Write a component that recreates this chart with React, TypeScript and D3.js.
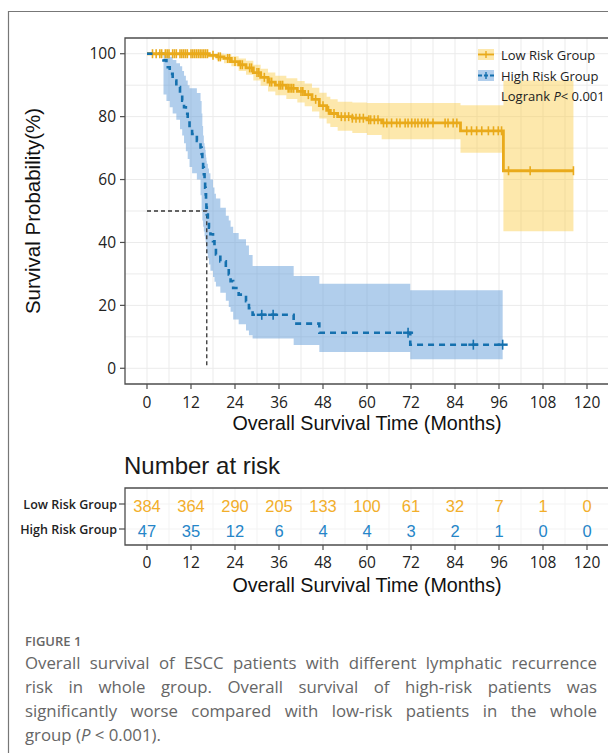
import React, { useEffect, useRef } from "react";
import * as d3 from "d3";

// ---------------- data ----------------
const lowTime = [0, 17, 19, 21, 23, 25, 27, 29, 31, 33, 35, 38, 41, 43, 45, 47, 49, 50, 52, 56, 60, 64, 85.5, 97.2];
const lowSurv = [100, 99.5, 99, 98.5, 97.5, 96.5, 95.5, 94, 92.5, 91, 90, 89, 88, 87, 85.5, 83.5, 82, 81, 80, 79.5, 79, 78, 75.5, 62.8];
const lowUpper = [100, 100, 100, 99.8, 99.2, 98.5, 97.8, 96.5, 95.2, 94, 93, 92.2, 91.3, 90.5, 89.2, 87.6, 86.3, 85.5, 84.7, 84.5, 84.3, 84.3, 83.6, 91.5];
const lowLower = [100, 98.8, 98, 97, 96, 94.5, 93.3, 91.5, 89.8, 88, 86.8, 85.6, 84.5, 83.3, 81.6, 79.4, 77.8, 76.7, 75.5, 74.8, 74.2, 72.8, 68.5, 43.6];
const lowEnd = 116.3;
const lowCensor = [1.5, 2.5, 3.5, 4, 5, 5.5, 6, 7, 7.5, 8, 9, 9.5, 10, 10.5, 11, 12, 12.5, 13, 13.5, 14, 14.5, 15, 15.5, 16, 16.5,
  18, 19.5, 20, 22, 22.5, 24, 25.5, 26, 28, 28.5, 30, 30.5, 32, 33.5, 34, 36, 36.5, 37, 38.5, 39, 39.5, 40, 42, 42.5, 44, 46,
  48, 49.5, 51, 53, 54, 55, 56, 57, 58, 59, 60.5, 61, 62, 63, 64.5, 65.4, 66.7, 68.1, 69, 70.4, 71.2, 72.2, 73.1, 73.9, 74.9,
  75.8, 76.6, 78, 81.3, 82.1, 83.5, 84.5, 87.2, 88.5, 89.9, 91.3, 93.1, 94.5, 95.8, 96.7, 98.6, 104.5, 116.3];

const highTime = [0, 4.5, 5.3, 6.2, 7.0, 8.0, 9.0, 9.6, 10.1, 10.6, 11.1, 11.6, 12.3, 13.6, 14.6, 14.9, 15.1, 15.3, 15.5, 15.7,
  15.85, 16.0, 16.1, 16.2, 16.3, 16.6, 16.9, 17.3, 18.0, 18.4, 18.8, 20.0, 21.5, 22.3, 22.8, 23.5, 25.0, 27.0, 27.8, 28.8, 40, 47, 71.8];
const highSurv = [100, 97.9, 95.7, 93.6, 91.5, 89.4, 87.2, 85.1, 83.0, 80.9, 78.7, 76.6, 74.5, 72.3, 70.2, 68.1, 66.0, 63.8, 61.7, 59.6,
  57.4, 55.3, 53.2, 51.1, 48.9, 46.8, 44.7, 42.6, 40.4, 38.3, 36.2, 34.0, 31.9, 29.8, 27.7, 25.5, 23.4, 21.3, 19.1, 17.0, 14.2, 11.3, 7.5];
const highUpper = [100, 100, 99.5, 99, 98, 97, 96, 94.5, 93, 91.5, 90, 89, 89, 87.5, 85, 81, 77, 74, 71.5, 70.5,
  69.5, 68, 67, 66, 65, 63.5, 62, 60, 57.5, 55.5, 54, 51, 48.5, 47, 45, 43, 41, 39, 36, 32.5, 29.3, 26.9, 24.8];
const highLower = [100, 87, 85, 83, 81, 79, 76, 74, 71.5, 69, 66.5, 64, 62, 60, 55, 50, 47, 45, 43.5, 42,
  41, 40, 39, 38, 36.5, 35, 33, 31, 29, 27.5, 26, 24, 21.5, 19.5, 18, 15.5, 14, 12, 10.5, 9.5, 7.4, 5.2, 2.9];
const highEnd = 97;
const highCensor = [31.3, 34.4, 71.2, 89, 97];

const medianTime = 16.3;

const xTicks = [0, 12, 24, 36, 48, 60, 72, 84, 96, 108, 120];
const xGrid = [0, 6, 12, 18, 24, 30, 36, 42, 48, 54, 60, 66, 72, 78, 84, 90, 96, 102, 108, 114, 120];
const yTicks = [0, 20, 40, 60, 80, 100];
const yGrid = [0, 10, 20, 30, 40, 50, 60, 70, 80, 90, 100];

const riskTimes = [0, 12, 24, 36, 48, 60, 72, 84, 96, 108, 120];
const lowRisk = [384, 364, 290, 205, 133, 100, 61, 32, 7, 1, 0];
const highRisk = [47, 35, 12, 6, 4, 4, 3, 2, 1, 0, 0];

const groupNames = ["Low Risk Group", "High Risk Group"];

const captionLines = [
  "Overall survival of ESCC patients with different lymphatic recurrence",
  "risk in whole group. Overall survival of high-risk patients was",
  "significantly worse compared with low-risk patients in the whole",
];

// ---------------- styles ----------------
const LOW = "#E9AA1B";
const HIGH = "#1570AE";
const LOW_FILL = "rgba(250,205,70,0.45)";
const HIGH_FILL = "rgba(90,150,215,0.47)";
const LOW_TXT = "#F2AE2A";
const HIGH_TXT = "#2585C8";
const GRID = "#EBEBEB";
const AX = "#4d4d4d";
const TICKFONT = "'Open Sans', sans-serif";
const ARIAL = "'Liberation Sans', Arial, sans-serif";

const x = d3.scaleLinear().domain([-6, 126]).range([125, 609]);
const y = d3.scaleLinear().domain([-5, 105]).range([384, 38]);
const PL = 125, PR = 609, PT = 38, PB = 384;
const TT = 488, TB = 545;
const rowY = [504, 529];

type Pt = { t: number; s: number; hi: number; lo: number };

function makePts(times: number[], surv: number[], up: number[], lo: number[], end: number): Pt[] {
  const p = times.map((t, i) => ({ t, s: surv[i], hi: up[i], lo: lo[i] }));
  const last = p[p.length - 1];
  p.push({ t: end, s: last.s, hi: last.hi, lo: last.lo });
  return p;
}

function survAt(times: number[], surv: number[], t: number) {
  const i = d3.bisectRight(times, t) - 1;
  return surv[Math.max(0, i)];
}

const lineGen = d3.line<Pt>().x((d) => x(d.t)).y((d) => y(d.s)).curve(d3.curveStepAfter);
const areaGen = d3.area<Pt>().x((d) => x(d.t)).y0((d) => y(d.lo)).y1((d) => y(d.hi)).curve(d3.curveStepAfter);

export default function App() {
  const capRef = useRef<SVGGElement>(null);
  const lowPts = makePts(lowTime, lowSurv, lowUpper, lowLower, lowEnd);
  const highPts = makePts(highTime, highSurv, highUpper, highLower, highEnd);

  useEffect(() => {
    if (!capRef.current) return;
    const target = 572;
    d3.select(capRef.current)
      .selectAll<SVGTextElement, unknown>("text.just")
      .each(function () {
        const el = this as SVGTextElement;
        el.setAttribute("word-spacing", "0");
        const w = el.getComputedTextLength();
        const txt = el.textContent || "";
        const n = (txt.match(/ /g) || []).length;
        if (n > 0) el.setAttribute("word-spacing", String((target - w) / n));
      });
  }, []);

  return (
    <svg width={608} height={753} style={{ position: "absolute", left: 0, top: 0, background: "#fff" }}>
      {/* outer frame */}
      <path d="M8.5,753 L8.5,11.5 L608,11.5" fill="none" stroke="#777" strokeWidth={1.2} />

      {/* grid */}
      <g>
        {xGrid.map((t) => (
          <line key={"gx" + t} x1={x(t)} x2={x(t)} y1={PT} y2={PB} stroke={GRID} strokeWidth={1} />
        ))}
        {yGrid.map((v) => (
          <line key={"gy" + v} x1={PL} x2={PR} y1={y(v)} y2={y(v)} stroke={GRID} strokeWidth={1} />
        ))}
      </g>

      {/* confidence bands */}
      <path d={areaGen(lowPts) || ""} fill={LOW_FILL} stroke="none" />
      <path d={areaGen(highPts) || ""} fill={HIGH_FILL} stroke="none" />

      {/* median lines */}
      <path
        d={`M${x(0)},${y(50)} L${x(medianTime)},${y(50)} L${x(medianTime)},${y(0)}`}
        fill="none"
        stroke="#333"
        strokeWidth={1.3}
        strokeDasharray="4,3"
      />

      {/* high risk curve */}
      <path d={lineGen(highPts) || ""} fill="none" stroke={HIGH} strokeWidth={2.6} strokeDasharray="6,5" />
      {highCensor.map((c, i) => {
        const v = survAt(highTime, highSurv, c);
        return (
          <g key={"hc" + i} stroke={HIGH} strokeWidth={1.6}>
            <line x1={x(c)} x2={x(c)} y1={y(v) - 5} y2={y(v) + 5} />
            <line x1={x(c) - 5} x2={x(c) + 5} y1={y(v)} y2={y(v)} strokeWidth={2.4} />
          </g>
        );
      })}

      {/* low risk curve */}
      <path d={lineGen(lowPts) || ""} fill="none" stroke={LOW} strokeWidth={2.8} />
      {lowCensor.map((c, i) => {
        const v = survAt(lowTime, lowSurv, c);
        return <line key={"lc" + i} x1={x(c)} x2={x(c)} y1={y(v) - 4.5} y2={y(v) + 4.5} stroke={LOW} strokeWidth={1.6} />;
      })}
      {/* first visible dash of the high risk curve at the start */}
      <line x1={x(0)} x2={x(1.5)} y1={y(highSurv[0])} y2={y(highSurv[0])} stroke={HIGH} strokeWidth={2.6} />

      {/* panel border */}
      <path d={`M${PR},${PT} L${PL},${PT} L${PL},${PB} L${PR},${PB}`} fill="none" stroke={AX} strokeWidth={1.3} />

      {/* y axis */}
      {yTicks.map((v) => (
        <g key={"yt" + v}>
          <line x1={PL - 5} x2={PL} y1={y(v)} y2={y(v)} stroke={AX} strokeWidth={1.2} />
          <text x={PL - 9} y={y(v) + 5.5} textAnchor="end" fontFamily={TICKFONT} fontSize={15.5} fill="#222">
            {v}
          </text>
        </g>
      ))}
      <text
        transform={`translate(40,${(PT + PB) / 2}) rotate(-90)`}
        textAnchor="middle"
        fontFamily={ARIAL}
        fontSize={20.5}
        fill="#111"
      >
        Survival Probability(%)
      </text>

      {/* x axis */}
      {xTicks.map((t) => (
        <g key={"xt" + t}>
          <line x1={x(t)} x2={x(t)} y1={PB} y2={PB + 5} stroke={AX} strokeWidth={1.2} />
          <text x={x(t)} y={PB + 24} textAnchor="middle" fontFamily={TICKFONT} fontSize={15.5} fill="#222">
            {t}
          </text>
        </g>
      ))}
      <text x={x(60)} y={430} textAnchor="middle" fontFamily={ARIAL} fontSize={19.7} fill="#111">
        Overall Survival Time (Months)
      </text>

      {/* legend */}
      <g>
        <rect x={478} y={49} width={16} height={11} fill={LOW_FILL} />
        <line x1={478} x2={494} y1={54.5} y2={54.5} stroke={LOW} strokeWidth={1.8} />
        <line x1={486} x2={486} y1={51} y2={58} stroke={LOW} strokeWidth={1.4} />
        <text x={501} y={59.5} fontFamily={TICKFONT} fontSize={13} fill="#222">
          {groupNames[0]}
        </text>
        <rect x={478} y={70} width={16} height={11} fill={HIGH_FILL} />
        <line x1={478} x2={494} y1={75.5} y2={75.5} stroke={HIGH} strokeWidth={1.8} strokeDasharray="4,2" />
        <line x1={486} x2={486} y1={72} y2={79} stroke={HIGH} strokeWidth={1.4} />
        <text x={501} y={80.5} fontFamily={TICKFONT} fontSize={13} fill="#222">
          {groupNames[1]}
        </text>
        <text x={501} y={101} fontFamily={TICKFONT} fontSize={13} fill="#222">
          Logrank <tspan fontStyle="italic">P</tspan>
          {"< 0.001"}
        </text>
      </g>

      {/* number at risk */}
      <text x={124} y={474} fontFamily={ARIAL} fontSize={24} fill="#1a1a1a">
        Number at risk
      </text>
      <g>
        {xGrid.map((t) => (
          <line key={"tg" + t} x1={x(t)} x2={x(t)} y1={TT} y2={TB} stroke="#F3F3F3" strokeWidth={1} />
        ))}
        {rowY.map((ry, i) => (
          <line key={"tr" + i} x1={PL} x2={PR} y1={ry} y2={ry} stroke="#F3F3F3" strokeWidth={1} />
        ))}
        <path d={`M${PR},${TT} L${PL},${TT} L${PL},${TB} L${PR},${TB}`} fill="none" stroke={AX} strokeWidth={1.3} />
        {groupNames.map((g, i) => (
          <g key={"rl" + i}>
            <line x1={PL - 6} x2={PL} y1={rowY[i]} y2={rowY[i]} stroke={AX} strokeWidth={1.2} />
            <text x={PL - 8} y={rowY[i] + 4.5} textAnchor="end" fontFamily={TICKFONT} fontWeight={600} fontSize={12.5} fill="#222">
              {g}
            </text>
          </g>
        ))}
        {riskTimes.map((t, i) => (
          <g key={"rv" + t}>
            <text x={x(t)} y={rowY[0] + 7.5} textAnchor="middle" fontFamily={ARIAL} fontSize={16.5} fill={LOW_TXT}>
              {lowRisk[i]}
            </text>
            <text x={x(t)} y={rowY[1] + 7.5} textAnchor="middle" fontFamily={ARIAL} fontSize={16.5} fill={HIGH_TXT}>
              {highRisk[i]}
            </text>
          </g>
        ))}
        {xTicks.map((t) => (
          <g key={"tx" + t}>
            <line x1={x(t)} x2={x(t)} y1={TB} y2={TB + 5} stroke={AX} strokeWidth={1.2} />
            <text x={x(t)} y={TB + 23} textAnchor="middle" fontFamily={TICKFONT} fontSize={15.5} fill="#222">
              {t}
            </text>
          </g>
        ))}
        <text x={x(60)} y={592} textAnchor="middle" fontFamily={ARIAL} fontSize={19.7} fill="#111">
          Overall Survival Time (Months)
        </text>
      </g>

      {/* caption */}
      <g ref={capRef}>
        <text x={25} y={646} fontFamily={TICKFONT} fontWeight={600} fontSize={13} fill="#666">
          FIGURE 1
        </text>
        {captionLines.map((l, i) => (
          <text key={"cl" + i} className="just" x={25} y={669 + i * 24} fontFamily={TICKFONT} fontSize={16.8} fill="#666">
            {l}
          </text>
        ))}
        <text x={25} y={669 + 3 * 24} fontFamily={TICKFONT} fontSize={16.8} fill="#666">
          {"group ("}
          <tspan fontStyle="italic">P</tspan>
          {" < 0.001)."}
        </text>
      </g>
    </svg>
  );
}
